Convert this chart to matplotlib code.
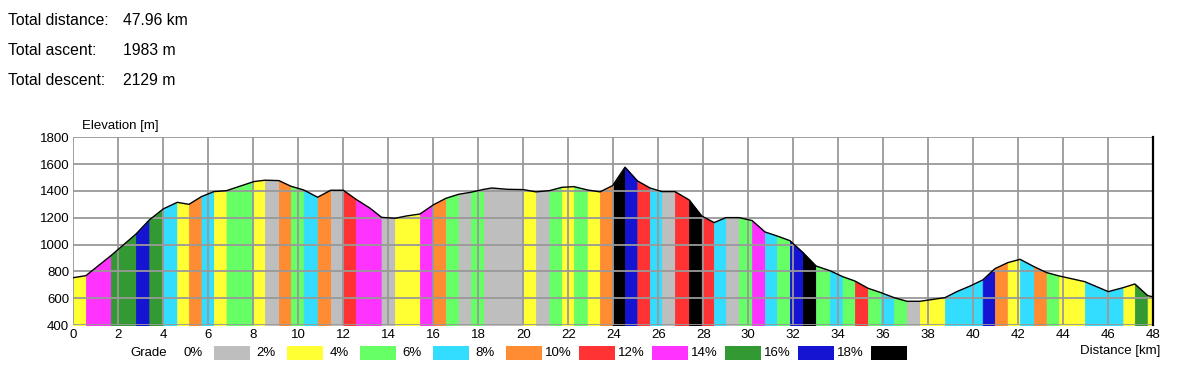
import numpy as np
import matplotlib.pyplot as plt
from matplotlib.patches import Rectangle

plt.rcParams['font.family'] = ['Liberation Sans', 'DejaVu Sans']

W, H = 1187, 370

# summary
summary_labels = ['Total distance:', 'Total ascent:', 'Total descent:']
summary_values = ['47.96 km', '1983 m', '2129 m']

# elevation profile (km, m)
profile_km = np.array([0.00, 0.56, 1.67, 2.79, 3.38, 4.00, 4.62, 5.14, 5.70, 6.25,
                       6.81, 8.03, 8.52, 9.14, 9.67, 10.24, 10.86, 11.44, 12.00, 12.56,
                       13.19, 13.70, 14.30, 14.80, 15.41, 16.00, 16.56, 17.13, 17.67, 18.25,
                       18.60, 19.30, 20.00, 20.56, 21.16, 21.72, 22.25, 22.86, 23.41, 23.97,
                       24.52, 25.07, 25.63, 26.16, 26.74, 27.37, 27.93, 28.48, 29.01, 29.59,
                       30.17, 30.74, 31.28, 31.85, 32.43, 33.01, 33.63, 34.19, 34.74, 35.32,
                       35.90, 36.48, 37.05, 37.63, 38.74, 39.27, 39.86, 40.42, 40.96, 41.53,
                       42.08, 42.70, 43.26, 43.81, 44.96, 46.00, 46.67, 47.18, 47.75, 47.96])
profile_elev = np.array([753, 768, 917, 1079, 1184, 1266, 1315, 1300, 1358, 1395,
                         1402, 1470, 1480, 1477, 1435, 1407, 1353, 1405, 1405, 1338,
                         1271, 1203, 1196, 1213, 1228, 1296, 1345, 1375, 1390, 1412,
                         1422, 1412, 1410, 1393, 1402, 1427, 1432, 1407, 1393, 1440,
                         1577, 1475, 1422, 1395, 1395, 1333, 1213, 1164, 1201, 1201,
                         1179, 1094, 1064, 1029, 940, 840, 805, 761, 728, 674,
                         641, 604, 577, 577, 604, 649, 691, 736, 820, 865,
                         890, 835, 791, 766, 723, 649, 679, 706, 619, 611])

# grade segments: start km, end km, grade class (0 -> 0-2%, 1 -> 2-4%, ...)
seg_start = [0.00, 0.56, 1.67, 2.79, 3.38, 4.00, 4.62, 5.14, 5.70, 6.25,
             6.81, 8.03, 8.52, 9.14, 9.67, 10.24, 10.86, 11.44, 12.00, 12.56,
             13.70, 14.30, 15.41, 16.00, 16.56, 17.13, 17.67, 18.25, 20.00, 20.56,
             21.16, 21.72, 22.25, 22.86, 23.41, 23.97, 24.52, 25.07, 25.63, 26.16,
             26.74, 27.37, 27.93, 28.48, 29.01, 29.59, 30.17, 30.74, 31.28, 31.85,
             32.43, 33.01, 33.63, 34.19, 34.74, 35.32, 35.90, 36.48, 37.05, 37.63,
             38.74, 40.42, 40.96, 41.53, 42.08, 42.70, 43.26, 43.81, 44.96, 46.67,
             47.18, 47.75]
seg_end = seg_start[1:] + [47.96]
seg_grade = [1, 6, 7, 8, 7, 3, 1, 4, 3, 1,
             2, 1, 0, 4, 2, 3, 4, 0, 5, 6,
             0, 1, 6, 4, 2, 0, 2, 0, 1, 0,
             2, 1, 2, 1, 4, 9, 8, 5, 3, 0,
             5, 9, 5, 3, 0, 2, 6, 3, 2, 8,
             9, 2, 3, 2, 5, 2, 3, 2, 0, 1,
             3, 8, 4, 1, 3, 4, 2, 1, 3, 1,
             7, 1]

grade_edges = [0, 2, 4, 6, 8, 10, 12, 14, 16, 18]
grade_colors = ['#bebebe', '#ffff33', '#66ff66', '#33ddff', '#ff8c33',
                '#ff3333', '#ff33ff', '#339933', '#1414d2', '#000000']

fig = plt.figure(figsize=(W / 100, H / 100), dpi=100)
ax = fig.add_axes([73.3 / W, 1 - 325 / H, 1080 / W, (325 - 137.3) / H])

for a, b, g in zip(seg_start, seg_end, seg_grade):
    m = (profile_km >= a - 1e-6) & (profile_km <= b + 1e-6)
    ax.fill_between(profile_km[m], profile_elev[m], 0, color=grade_colors[g],
                    lw=0.6, zorder=1)
ax.plot(profile_km, profile_elev, color='black', lw=1, zorder=4)

ax.set_xlim(0, 48)
ax.set_ylim(400, 1800)
ax.set_xticks(range(0, 49, 2))
ax.set_yticks(range(400, 1801, 200))
ax.grid(True, color='#999999', lw=1.3, zorder=3)
ax.set_axisbelow(False)
ax.tick_params(length=0, labelsize=9.5, pad=3)
for s in ['left', 'top', 'bottom']:
    ax.spines[s].set_visible(False)
ax.spines['right'].set_color('black')
ax.spines['right'].set_linewidth(1.6)
ax.spines['right'].set_zorder(5)

fig.text(82 / W, 1 - 126 / H, 'Elevation [m]', fontsize=9.5, va='center', ha='left')
fig.text(1160 / W, 1 - 351 / H, 'Distance [km]', fontsize=9.5, va='center', ha='right')

# header
for i, (lab, val) in enumerate(zip(summary_labels, summary_values)):
    y = 1 - (20.7 + 30 * i) / H
    fig.text(8 / W, y, lab, fontsize=11.3, va='center', ha='left')
    fig.text(122.7 / W, y, val, fontsize=11.3, va='center', ha='left')

# grade legend
ly = 353
fig.text(149 / W, 1 - ly / H, 'Grade', fontsize=9.5, va='center', ha='center')
bx0, step, bw, bh = 214, 73, 36, 14
for i, (e, c) in enumerate(zip(grade_edges, grade_colors)):
    x = bx0 + i * step
    fig.text((x - 21) / W, 1 - ly / H, f'{e}%', fontsize=9.5, va='center', ha='center')
    fig.patches.append(Rectangle((x / W, 1 - (ly + bh / 2) / H), bw / W, bh / H,
                                 transform=fig.transFigure, facecolor=c, edgecolor='none'))

fig.savefig('out.png', dpi=100)
